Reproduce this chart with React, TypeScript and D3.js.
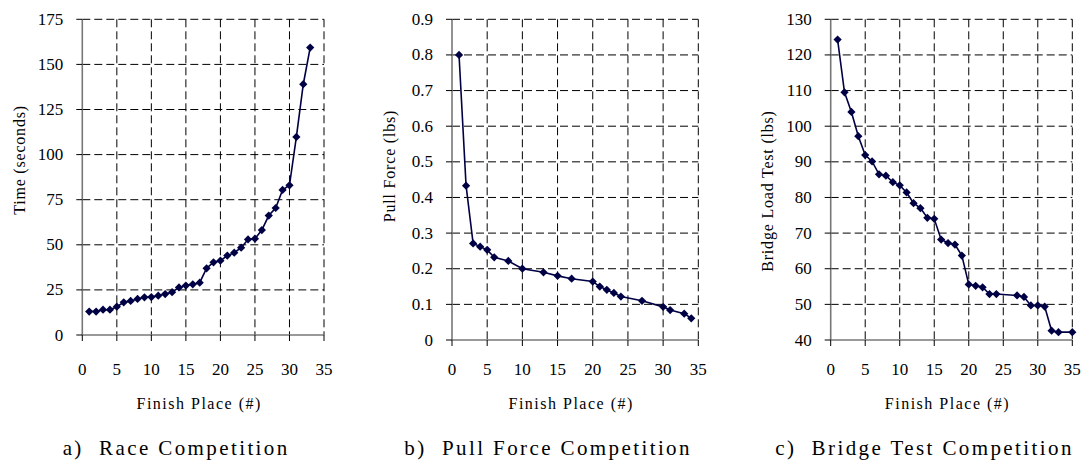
import React from 'react';
import * as d3 from 'd3';

// Race competition: finish place vs time (seconds)
const racePlace = [1, 2, 3, 4, 5, 6, 7, 8, 9, 10, 11, 12, 13, 14, 15, 16, 17, 18, 19, 20, 21, 22, 23, 24, 25, 26, 27, 28, 29, 30, 31, 32, 33];
const raceTime = [13, 13, 14, 14, 15.7, 18.1, 18.9, 20, 20.9, 21, 21.8, 22.7, 23.7, 26.4, 27.4, 28.1, 29, 37, 40.3, 41.2, 44, 45.6, 48.4, 53, 53.4, 58.2, 66.2, 70.4, 80.4, 83, 109.8, 139, 159.3];

// Pull force competition
const pullPlace = [1, 2, 3, 4, 5, 6, 8, 10, 13, 15, 17, 20, 21, 22, 23, 24, 27, 30, 31, 33, 34];
const pullForce = [0.8, 0.433, 0.271, 0.262, 0.253, 0.232, 0.222, 0.2, 0.19, 0.18, 0.172, 0.164, 0.15, 0.141, 0.132, 0.122, 0.11, 0.093, 0.084, 0.074, 0.061];

// Bridge load test competition
const bridgePlace = [1, 2, 3, 4, 5, 6, 7, 8, 9, 10, 11, 12, 13, 14, 15, 16, 17, 18, 19, 20, 21, 22, 23, 24, 27, 28, 29, 30, 31, 32, 33, 35];
const bridgeLoad = [124.3, 109.5, 104, 97.2, 91.9, 90.1, 86.5, 86.1, 84.3, 83.4, 81.4, 78.4, 77, 74.3, 74, 68.2, 67.2, 66.8, 63.7, 55.6, 55.2, 54.8, 52.9, 52.9, 52.5, 52.1, 49.7, 49.7, 49.4, 42.6, 42.2, 42.2];

const xTicks = [0, 5, 10, 15, 20, 25, 30, 35];
const raceTicks = [0, 25, 50, 75, 100, 125, 150, 175];
const pullTicks = [0, 0.1, 0.2, 0.3, 0.4, 0.5, 0.6, 0.7, 0.8, 0.9];
const bridgeTicks = [40, 50, 60, 70, 80, 90, 100, 110, 120, 130];

const FONT = "'Liberation Serif', 'Times New Roman', serif";
const LINE = '#000044';

type PanelProps = {
  xs: number[];
  ys: number[];
  yTicks: number[];
  yFmt: (v: number) => string;
  left: number;
  right: number;
  top: number;
  bottom: number;
  yTitle: string;
  yTitleY: number;
  caption: string;
};

const Panel = ({ xs, ys, yTicks, yFmt, left, right, top, bottom, yTitle, yTitleY, caption }: PanelProps) => {
  const x = d3.scaleLinear().domain([0, 35]).range([left, right]);
  const y = d3.scaleLinear().domain(d3.extent(yTicks) as [number, number]).range([bottom, top]);
  const pts = xs.map((v, i) => [v, ys[i]] as [number, number]);
  const lineGen = d3.line<[number, number]>().x(d => x(d[0])).y(d => y(d[1]));
  const marker = d3.symbol(d3.symbolSquare, 34)() as string;
  const cx = (left + right) / 2;

  return (
    <g style={{ fontFamily: FONT }} fill="#000">
      {/* dashed grid */}
      {yTicks.slice(1).map(t => (
        <line key={'gy' + t} x1={left} x2={right} y1={y(t)} y2={y(t)} stroke="#000" strokeWidth={1} strokeDasharray="8,4" />
      ))}
      {xTicks.slice(1).map(t => (
        <line key={'gx' + t} x1={x(t)} x2={x(t)} y1={top} y2={bottom} stroke="#000" strokeWidth={1} strokeDasharray="8,4" />
      ))}
      {/* axes */}
      <line x1={left} x2={left} y1={top} y2={bottom} stroke="#777" strokeWidth={1.6} />
      <line x1={left} x2={right} y1={bottom} y2={bottom} stroke="#777" strokeWidth={1.6} />
      {yTicks.map(t => (
        <g key={'ty' + t}>
          <line x1={left - 6} x2={left} y1={y(t)} y2={y(t)} stroke="#000" />
          <text x={left - 19} y={y(t)} textAnchor="end" dominantBaseline="central" fontSize={17}>{yFmt(t)}</text>
        </g>
      ))}
      {xTicks.map(t => (
        <g key={'tx' + t}>
          <line x1={x(t)} x2={x(t)} y1={bottom} y2={bottom + 6} stroke="#000" />
          <text x={x(t)} y={375} textAnchor="middle" fontSize={17}>{t}</text>
        </g>
      ))}
      {/* data */}
      <path d={lineGen(pts) as string} fill="none" stroke={LINE} strokeWidth={1.6} />
      {pts.map((p, i) => (
        <path key={i} d={marker} transform={`translate(${x(p[0])},${y(p[1])}) rotate(45)`} fill={LINE} />
      ))}
      {/* titles */}
      <text transform={`translate(${left - 63},${yTitleY}) rotate(-90)`} textAnchor="middle" dominantBaseline="central" fontSize={16} letterSpacing={0.8}>{yTitle}</text>
      <text x={cx - 4} y={409} textAnchor="middle" fontSize={16} letterSpacing={1.5}>Finish Place (#)</text>
      <text x={cx - 27} y={455} textAnchor="middle" fontSize={21} letterSpacing={2.4} xmlSpace="preserve">{caption}</text>
    </g>
  );
};

const App = () => {
  const fmtInt = (v: number) => String(v);
  const fmtDec = (v: number) => (v === 0 ? '0' : d3.format('.1f')(v));
  return (
    <svg width={1086} height={464} style={{ position: 'absolute', left: 0, top: 0, background: '#fff' }}>
      <Panel xs={racePlace} ys={raceTime} yTicks={raceTicks} yFmt={fmtInt}
        left={82.3} right={324} top={19.3} bottom={335} yTitle="Time (seconds)" yTitleY={160} caption="a)  Race Competition" />
      <Panel xs={pullPlace} ys={pullForce} yTicks={pullTicks} yFmt={fmtDec}
        left={452} right={698.3} top={19.3} bottom={340} yTitle="Pull Force (lbs)" yTitleY={166} caption="b)  Pull Force Competition" />
      <Panel xs={bridgePlace} ys={bridgeLoad} yTicks={bridgeTicks} yFmt={fmtInt}
        left={830.7} right={1072.3} top={19.3} bottom={340} yTitle="Bridge Load Test (lbs)" yTitleY={191} caption="c)  Bridge Test Competition" />
    </svg>
  );
};

export default App;
